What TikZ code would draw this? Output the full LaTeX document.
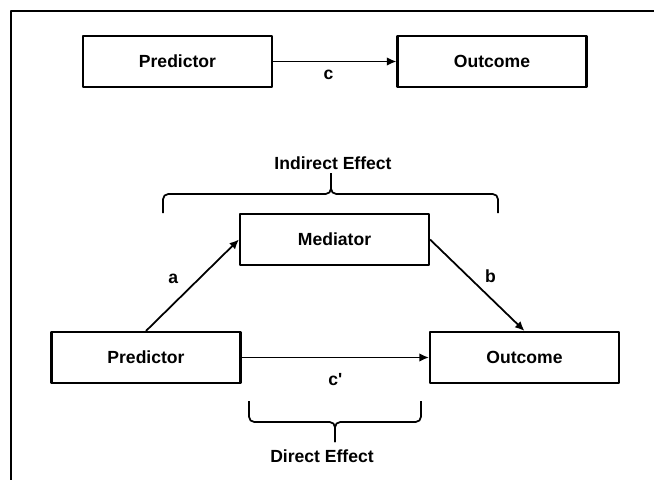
\documentclass[tikz,border=0pt]{standalone}
\usepackage{fontspec}
\setmainfont{Liberation Sans}
\usetikzlibrary{arrows.meta,positioning}
\begin{document}
\begin{tikzpicture}[x=0.02cm,y=-0.02cm,font=\fontsize{10}{12}\selectfont\bfseries,line join=round,>={Latex[length=1.9mm,width=1.7mm]}]
	\tikzset{box/.style={draw,line width=1.2pt,minimum width=3.78cm,minimum height=1.02cm,inner sep=0pt}}
	\tikzset{conn/.style={->,line width=1pt}}
	\tikzset{bracket/.style={line width=1pt,rounded corners=3pt}}
	\useasboundingbox (0,0) rectangle (654,480);
	\draw[line width=1.2pt] (11,480)--(11,11)--(654,11);
	\node[box] (predtop) at (177.5,61.5) {Predictor};
	\node[box] (outtop) at (492,61.5) {Outcome};
	\node[box] (med) at (334.5,239.5) {Mediator};
	\node[box] (pred) at (146,357.5) {Predictor};
	\node[box] (out) at (524.5,357.5) {Outcome};
	\draw[conn] (predtop.east) -- (outtop.west) node[pos=0.45,below=1pt] {c};
	\draw[conn] (pred.north) -- (med.west) node[pos=0.57,left=8pt] {a};
	\draw[conn] (med.east) -- (out.north) node[pos=0.4,right=6pt] {b};
	\draw[conn] (pred.east) -- (out.west) node[midway,below=5pt] {c\textquotesingle};
	\coordinate (indtip) at (331,173);
	\coordinate (dirtip) at (335,442);
	\draw[bracket] (163,213) |- (331,194) -- (indtip);
	\draw[bracket] (498,213) |- (331,194) -- (indtip);
	\draw[bracket] (249,401) |- (335,422) -- (dirtip);
	\draw[bracket] (421,401) |- (335,422) -- (dirtip);
	\node (indlabel) at (333,163) {Indirect Effect};
	\node (dirlabel) at (322,456) {Direct Effect};
\end{tikzpicture}
\end{document}
